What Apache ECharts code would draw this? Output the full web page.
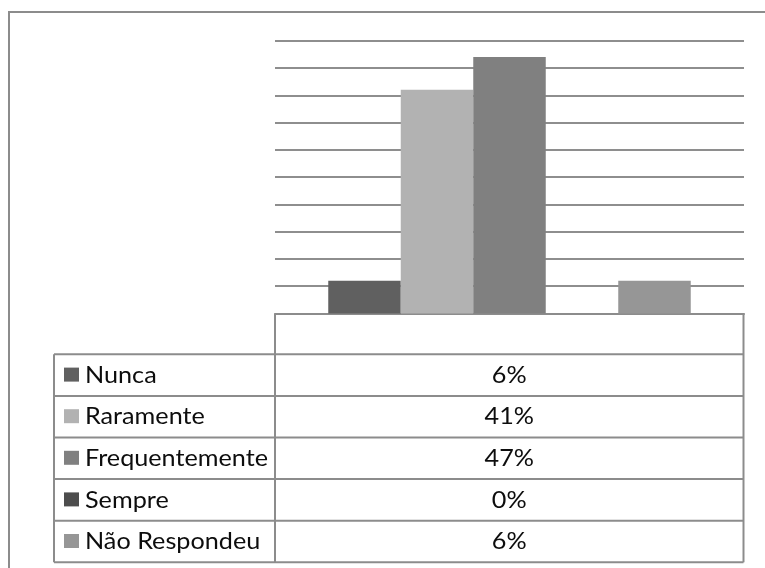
<!DOCTYPE html>
<html>
<head>
<meta charset="utf-8">
<script src="https://cdn.jsdelivr.net/npm/echarts@6/dist/echarts.min.js"></script>
<style>
  html, body { margin: 0; padding: 0; background: #fff; }
  #chart { width: 765px; height: 568px; }
</style>
</head>
<body>
<div id="chart"></div>
<script>
// Survey answers, one bar per answer
const categories = [''];
const seriesNames = ['Nunca', 'Raramente', 'Frequentemente', 'Sempre', 'Não Respondeu'];
const seriesValues = [0.06, 0.41, 0.47, 0, 0.06];
const seriesColors = ['#606060', '#b2b2b2', '#808080', '#4d4d4d', '#969696'];
const yTicks = { min: 0, max: 0.5, interval: 0.05 };

// Layout
const plotLeft = 275, plotRight = 744, plotTop = 40.7, plotBottom = 313.5;
const tableLeft = 54, tableRight = 743.5, rowH = 41.6;
const firstRowTop = 354.3;
const lineColor = '#8c8c8c';
const font = 'Lato, "Open Sans", sans-serif';
const textFont = '24px ' + font;
const textStretch = 1.05;

const chart = echarts.init(document.getElementById('chart'), null, { renderer: 'canvas' });

const graphics = [];
// outer chart frame (right/bottom edges fall outside the canvas)
graphics.push({
  type: 'rect', silent: true, z: 0,
  shape: { x: 9, y: 12, width: 800, height: 600 },
  style: { fill: 'none', stroke: lineColor, lineWidth: 2 }
});
const tableBottom = firstRowTop + rowH * seriesNames.length;
// header cell left border
graphics.push({
  type: 'line', silent: true, z: 10,
  shape: { x1: plotLeft, y1: plotBottom, x2: plotLeft, y2: tableBottom },
  style: { stroke: lineColor, lineWidth: 2 }
});
// table outline and rows
graphics.push({
  type: 'line', silent: true, z: 10,
  shape: { x1: tableLeft, y1: firstRowTop, x2: tableLeft, y2: tableBottom },
  style: { stroke: lineColor, lineWidth: 2 }
});
graphics.push({
  type: 'line', silent: true, z: 10,
  shape: { x1: tableRight, y1: plotBottom, x2: tableRight, y2: tableBottom },
  style: { stroke: lineColor, lineWidth: 2 }
});
for (let i = 0; i <= seriesNames.length; i++) {
  const y = firstRowTop + rowH * i;
  graphics.push({
    type: 'line', silent: true, z: 10,
    shape: { x1: tableLeft, y1: y, x2: tableRight, y2: y },
    style: { stroke: lineColor, lineWidth: 2 }
  });
}
seriesNames.forEach((name, i) => {
  const cy = firstRowTop + rowH * i + rowH / 2;
  graphics.push({
    type: 'rect', silent: true, z: 11,
    shape: { x: 64, y: cy - 7.5, width: 15, height: 14 },
    style: { fill: seriesColors[i] }
  });
  graphics.push({
    type: 'text', silent: true, z: 11,
    x: 85, y: cy, scaleX: textStretch,
    style: { text: name, font: textFont, fill: '#0d0d0d', textVerticalAlign: 'middle', textAlign: 'left' }
  });
  graphics.push({
    type: 'text', silent: true, z: 11,
    x: (plotLeft + tableRight) / 2, y: cy, scaleX: textStretch,
    style: { text: Math.round(seriesValues[i] * 100) + '%', font: textFont, fill: '#0d0d0d', textVerticalAlign: 'middle', textAlign: 'center' }
  });
});

chart.setOption({
  animation: false,
  backgroundColor: '#fff',
  grid: { left: plotLeft, right: 765 - plotRight, top: plotTop, bottom: 568 - plotBottom, containLabel: false },
  xAxis: {
    type: 'category', data: categories,
    axisLine: { show: true, lineStyle: { color: lineColor, width: 2 } },
    axisTick: { show: false }, axisLabel: { show: false }
  },
  yAxis: {
    type: 'value', min: yTicks.min, max: yTicks.max, interval: yTicks.interval,
    axisLine: { show: false }, axisTick: { show: false }, axisLabel: { show: false },
    splitLine: { lineStyle: { color: '#8e8e8e', width: 2 } }
  },
  series: seriesNames.map((name, i) => ({
    type: 'bar', name,
    data: [seriesValues[i]],
    barWidth: 72.5, barGap: '0%',
    itemStyle: { color: seriesColors[i] },
    z: 5
  })),
  graphic: graphics
});
</script>
</body>
</html>
